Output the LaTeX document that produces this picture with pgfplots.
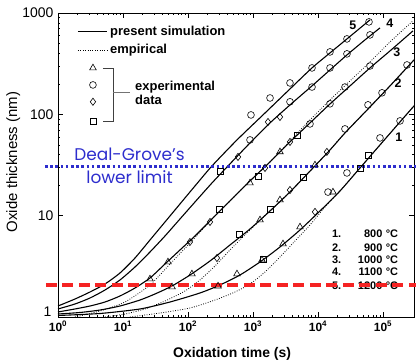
\documentclass[border=0pt]{standalone}
\usepackage{pgfplots}
\pgfplotsset{compat=1.18}
\usepackage{fontspec}
\setmainfont{Liberation Sans}
\newfontfamily\dgfont{Poppins}
\definecolor{dgblue}{RGB}{45,45,205}
\definecolor{lred}{RGB}{245,35,35}
\begin{document}
\begin{tikzpicture}
\useasboundingbox (0,0) rectangle (416bp,362bp);
\begin{axis}[
  at={(58bp,45bp)}, anchor=south west,
  width=356bp, height=304bp, scale only axis,
  xmode=log, ymode=log, xmin=1, xmax=3e5, ymin=1, ymax=1000,
  clip=false,
  axis line style={line width=0.8bp},
  tick align=inside, major tick length=5bp, minor tick length=2.5bp,
  tick style={black, line width=0.6bp},
  xtick={1,10,100,1000,10000,100000},
  xticklabels={10\textsuperscript{0},10\textsuperscript{1},10\textsuperscript{2},10\textsuperscript{3},10\textsuperscript{4},10\textsuperscript{5}},
  xticklabel style={font=\bfseries\fontsize{12}{12}\selectfont, inner sep=1bp, yshift=-3bp},
  ytick={10,100,1000}, yticklabels={10,100,1000},
  extra y ticks={1}, extra y tick labels={1},
  extra y tick style={yticklabel style={yshift=5bp, xshift=-2bp}},
  yticklabel style={font=\fontsize{14}{14}\selectfont, inner sep=1bp, xshift=-3.5bp},
  xlabel={Oxidation time (s)},
  xlabel style={at={(axis description cs:0.489,-0.122)}, anchor=center, font=\bfseries\fontsize{14}{14}\selectfont},
  ylabel={Oxide thickness (nm)},
  ylabel style={at={(axis description cs:-0.126,0.51)}, anchor=center, font=\fontsize{15}{15}\selectfont},
]
% ---------- simulation (solid) ----------
% 1200 C
\addplot[black, line width=1.1bp, smooth, tension=0.4] coordinates {
(1,1.284) (1.826,1.505) (3.107,1.765) (5.286,2.117) (8.99,2.719) (15.3,3.823) (26.03,5.755) (44.29,8.667) (75.33,13.05) (128.2,19.65) (233.9,30.95) (567.2,55.89) (1425,98.65) (3709,178.1) (8084,287.1) (15300,403.7) (27940,555.1) (63100,855.1)};
% 1100 C
\addplot[black, line width=1.1bp, smooth, tension=0.4] coordinates {
(1,1.2) (1.826,1.344) (3.107,1.54) (5.286,1.847) (8.99,2.319) (15.3,3.116) (26.03,4.382) (44.29,6.304) (75.33,9.278) (128.2,13.65) (233.9,21.03) (412.6,30.95) (899.3,52.2) (1826,82.27) (3709,123.8) (8084,190.8) (15300,274.4) (27940,385.8) (52850,542.6) (89940,712.6)};
% 1000 C
\addplot[black, line width=1.1bp, smooth, tension=0.4] coordinates {
(1,1.121) (1.826,1.2) (3.107,1.284) (5.286,1.406) (8.99,1.612) (15.3,1.933) (26.03,2.427) (44.29,3.336) (75.33,4.586) (128.2,6.304) (233.9,9.278) (442.8,13.97) (899.3,22.01) (1826,33.89) (3709,53.41) (7533,82.27) (15300,126.6) (31080,190.8) (63100,287.1) (128200,422.6) (289400,665.8)};
% 900 C
\addplot[black, line width=1.1bp, smooth, tension=0.4] coordinates {
(1,1.07) (2.181,1.108) (4.43,1.172) (8.99,1.284) (18.26,1.471) (31.07,1.687) (56.74,2.023) (107.4,2.597) (218,3.571) (442.8,5.137) (899.3,7.391) (1826,11.13) (3709,17.14) (8377,29.57) (15300,44.52) (26030,65.53) (63100,118.3) (128200,190.8) (300000,344.4)};
% 800 C
\addplot[black, line width=1.1bp, smooth, tension=0.4] coordinates {
(1,1.035) (4.43,1.083) (18.26,1.2) (52.86,1.406) (152.9,1.726) (310.7,2.07) (631,2.597) (1282,3.491) (2603,4.909) (5286,7.225) (10740,11.13) (21800,17.53) (44290,29.57) (89940,49.89) (182600,84.14) (300000,121)};
% ---------- empirical (dotted) ----------
\addplot[black, line width=0.8bp, dash pattern=on 0.8bp off 1.6bp, smooth, tension=0.4] coordinates {
(12.82,1.0) (37.09,1.095) (107.4,1.227) (260.3,1.471) (528.6,1.765) (899.3,2.117) (1530,2.782) (2603,3.912) (4429,5.626) (7533,8.093) (12820,12.19) (21800,17.53) (44290,29.57) (89940,49.89) (182600,84.14) (300000,121)};
\addplot[black, line width=0.8bp, dash pattern=on 0.8bp off 1.6bp, smooth, tension=0.4] coordinates {
(5.286,1.0) (10.73,1.07) (21.8,1.2) (44.29,1.439) (89.94,1.805) (152.9,2.319) (260.3,3.188) (442.8,4.586) (899.3,7.225) (1826,11.13) (3709,17.14) (8377,29.57) (15300,44.52) (26030,65.53) (63100,118.3) (128200,190.8) (300000,344.4)};
\addplot[black, line width=0.8bp, dash pattern=on 0.8bp off 1.6bp, smooth, tension=0.4] coordinates {
(1.826,1.0) (4.43,1.146) (10.73,1.406) (26.03,2.07) (52.86,3.336) (107.4,5.376) (233.9,9.278) (442.8,13.97) (899.3,22.01) (1826,33.89) (3709,54.64) (7533,88.05) (15300,138.8) (31080,213.6) (63100,329.2) (128200,518.4) (289400,835.6)};
% ---------- experimental data ----------
\addplot[only marks, mark=triangle, mark size=3.8bp, mark options={black, line width=0.6bp, fill=white}] coordinates {
(26,2.37) (49.2,3.49) (899,21.0) (2600,42.6)
(56.8,1.98) (115,2.66) (1282,9.07) (2600,14.3) (8990,31.6)
(290,2.02) (567,2.66) (1375,3.65) (2896,5.26) (5284,7.73) (17000,17.1)
(3.45,287)};
\addplot[only marks, mark=o, mark size=3.4bp, mark options={black, line width=0.6bp}] coordinates {
(931,98.6) (1828,145) (3707,204) (8090,287) (15300,413) (27900,555) (60900,817)
(899,55.9) (3707,133) (8090,186) (15300,287) (27900,395) (63100,608)
(7534,80.4) (15300,127) (26000,186) (63100,300)
(26000,71.8) (58800,124) (96600,163) (234000,307)
(14250,17.1) (27900,26.4) (89900,58.5) (183000,86.1)
(3.45,195)};
\addplot[only marks, mark=diamond, mark size=3.6bp, mark options={black, line width=0.6bp}] coordinates {
(588,38.0) (1702,84.1) (2600,94.2)
(107,5.5) (218,8.67) (1530,29.6) (3707,53.4)
(279,3.82) (3707,17.9) (13700,42.6)
(8990,10.9)
(3.45,133)};
\addplot[only marks, mark=square, mark size=3bp, mark options={black, line width=0.6bp}] coordinates {
(311,27.6)
(300,11.5) (1194,24.7) (4753,62.6)
(609,6.5) (1828,11.6) (5875,24.1)
(1450,3.7) (44300,29.6) (58800,39.7)
(3.45,86)};
% ---------- legend pieces ----------
\addplot[black, line width=1.1bp] coordinates {(2.03,651) (5.67,651)};
\addplot[black, line width=0.8bp, dash pattern=on 0.8bp off 1.6bp] coordinates {(2.03,432) (5.67,432)};
\addplot[black!75, line width=0.8bp] coordinates {(4.92,287) (7.02,287) (7.02,86) (4.92,86)};
\addplot[black!55, line width=0.8bp] coordinates {(7.02,163) (12.8,163)};
\node[anchor=west, inner sep=0, font=\bfseries\fontsize{13}{13}\selectfont] at (axis cs:6.31,651) {present simulation};
\node[anchor=west, inner sep=0, font=\bfseries\fontsize{13}{13}\selectfont] at (axis cs:6.31,432) {empirical};
\node[anchor=west, inner sep=0, font=\bfseries\fontsize{13}{13}\selectfont] at (axis cs:15.3,186) {experimental};
\node[anchor=west, inner sep=0, font=\bfseries\fontsize{13}{13}\selectfont] at (axis cs:15.3,139) {data};
% ---------- curve numbers ----------
\node[font=\bfseries\fontsize{12.5}{12.5}\selectfont] at (axis cs:34500,763) {5};
\node[font=\bfseries\fontsize{12.5}{12.5}\selectfont] at (axis cs:128000,798) {4};
\node[font=\bfseries\fontsize{12.5}{12.5}\selectfont] at (axis cs:164000,413) {3};
\node[font=\bfseries\fontsize{12.5}{12.5}\selectfont] at (axis cs:170000,204) {2};
\node[font=\bfseries\fontsize{12.5}{12.5}\selectfont] at (axis cs:176000,59.8) {1};
% ---------- temperatures ----------
\node[anchor=base west, inner sep=0, font=\bfseries\fontsize{11}{11}\selectfont] at (axis cs:16400,6.03) {\makebox[9.2bp][l]{1.}\hspace{16bp}\makebox[25bp][r]{800}\hspace{3.5bp}°C};
\node[anchor=base west, inner sep=0, font=\bfseries\fontsize{11}{11}\selectfont] at (axis cs:16400,4.48) {\makebox[9.2bp][l]{2.}\hspace{16bp}\makebox[25bp][r]{900}\hspace{3.5bp}°C};
\node[anchor=base west, inner sep=0, font=\bfseries\fontsize{11}{11}\selectfont] at (axis cs:16400,3.41) {\makebox[9.2bp][l]{3.}\hspace{16bp}\makebox[25bp][r]{1000}\hspace{3.5bp}°C};
\node[anchor=base west, inner sep=0, font=\bfseries\fontsize{11}{11}\selectfont] at (axis cs:16400,2.54) {\makebox[9.2bp][l]{4.}\hspace{16bp}\makebox[25bp][r]{1100}\hspace{3.5bp}°C};
\node[anchor=base west, inner sep=0, font=\bfseries\fontsize{11}{11}\selectfont] at (axis cs:16400,1.85) {\makebox[9.2bp][l]{5.}\hspace{16bp}\makebox[25bp][r]{1200}\hspace{3.5bp}°C};
% ---------- annotations ----------
\node[dgblue, align=center, inner sep=0, font=\dgfont\fontsize{17}{23}\selectfont] at (axis cs:12.6,30.9) {Deal-Grove’s\\lower limit};
\addplot[dgblue, line width=3bp, dash pattern=on 2.6bp off 2.6bp] coordinates {(0.63,30.9) (322000,30.9)};
\addplot[lred, line width=3.2bp, dash pattern=on 11bp off 5.5bp] coordinates {(0.653,2.07) (322000,2.07)};
\end{axis}
\end{tikzpicture}
\end{document}
